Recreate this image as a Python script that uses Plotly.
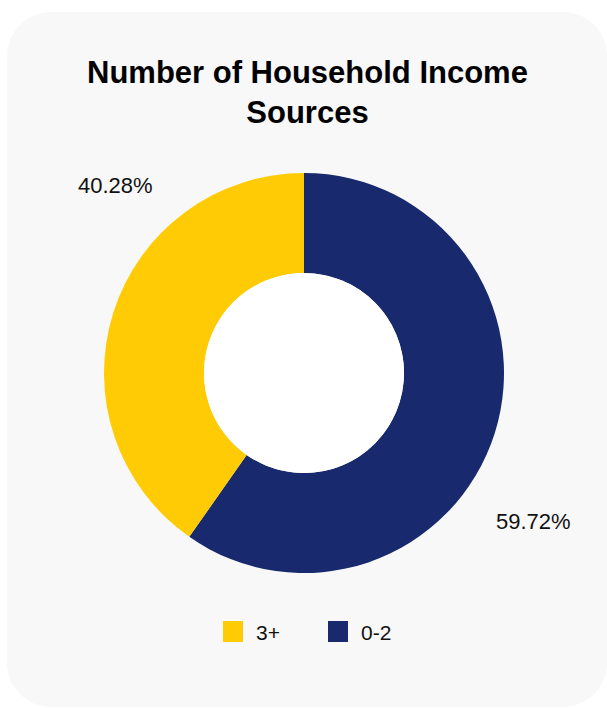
import plotly.graph_objects as go

W, H = 607, 708

# ---- data ----
categories = ["3+", "0-2"]
values = [40.28, 59.72]
colors = ["#FFCB05", "#182A6D"]
title_text = "Number of Household Income<br>Sources"

fig = go.Figure()

# invisible cartesian helper (pixel frame for shapes)
fig.add_trace(go.Scatter(x=[], y=[], showlegend=False, hoverinfo="skip"))

# slice order reversed so "0-2" runs clockwise from 12 o'clock, "3+" fills the left
fig.add_trace(go.Pie(
    labels=categories[::-1],
    values=values[::-1],
    marker=dict(colors=colors[::-1], line=dict(width=0)),
    hole=0.5,
    sort=False,
    direction="clockwise",
    rotation=0,
    textinfo="none",
    showlegend=False,
    domain=dict(x=[104 / W, 504 / W], y=[1 - 573 / H, 1 - 173 / H]),
))

# rounded card background
def rounded_rect(x0, y0, x1, y1, r):
    k = 0.5523 * r
    return (f"M {x0+r},{y0} L {x1-r},{y0} "
            f"C {x1-r+k},{y0} {x1},{y0+r-k} {x1},{y0+r} "
            f"L {x1},{y1-r} "
            f"C {x1},{y1-r+k} {x1-r+k},{y1} {x1-r},{y1} "
            f"L {x0+r},{y1} "
            f"C {x0+r-k},{y1} {x0},{y1-r+k} {x0},{y1-r} "
            f"L {x0},{y0+r} "
            f"C {x0},{y0+r-k} {x0+r-k},{y0} {x0+r},{y0} Z")

shapes = [
    dict(type="path", xref="x", yref="y", path=rounded_rect(7, 12, 607, 707, 44),
         fillcolor="#F8F8F8", line=dict(width=0), layer="below"),
    dict(type="circle", xref="x", yref="y", x0=204, x1=404, y0=273, y1=473,
         fillcolor="#FFFFFF", line=dict(width=0), layer="above"),
]

annotations = [
    dict(x=307, y=92, xref="x", yref="y", text=f"<b>{title_text}</b>", showarrow=False,
         font=dict(family="Liberation Sans, Arial", size=31, color="#000000"),
         xanchor="center", yanchor="middle", align="center"),
    dict(x=115, y=185, xref="x", yref="y", text=f"{values[0]:.2f}%", showarrow=False,
         font=dict(family="Liberation Sans, Arial", size=22, color="#111111"),
         xanchor="center", yanchor="middle"),
    dict(x=533, y=521, xref="x", yref="y", text=f"{values[1]:.2f}%", showarrow=False,
         font=dict(family="Liberation Sans, Arial", size=22, color="#111111"),
         xanchor="center", yanchor="middle"),
]

# manual legend
legend_x = [223, 328]
for i, (cat, col) in enumerate(zip(categories, colors)):
    x0 = legend_x[i]
    shapes.append(dict(type="rect", xref="x", yref="y", x0=x0, x1=x0 + 20, y0=621, y1=642,
                       fillcolor=col, line=dict(width=0), layer="above"))
    annotations.append(dict(x=x0 + 31, y=632, xref="x", yref="y", text=cat, showarrow=False,
                            font=dict(family="Liberation Sans, Arial", size=21, color="#111111"),
                            xanchor="left", yanchor="middle"))

fig.update_layout(
    width=W, height=H,
    margin=dict(l=0, r=0, t=0, b=0),
    paper_bgcolor="#FFFFFF",
    plot_bgcolor="rgba(0,0,0,0)",
    xaxis=dict(range=[0, W], visible=False, domain=[0, 1], fixedrange=True),
    yaxis=dict(range=[H, 0], visible=False, domain=[0, 1], fixedrange=True),
    shapes=shapes,
    annotations=annotations,
    showlegend=False,
)

fig.write_html("out.html")
